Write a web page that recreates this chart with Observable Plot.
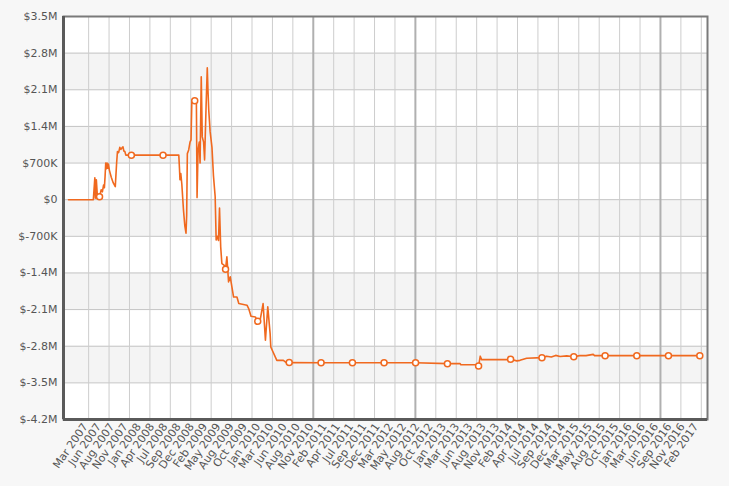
<!DOCTYPE html>
<html>
<head>
<meta charset="utf-8">
<script src="https://cdn.jsdelivr.net/npm/d3@7"></script>
<script src="https://cdn.jsdelivr.net/npm/@observablehq/plot@0.6"></script>
<style>
  html, body { margin: 0; padding: 0; background: #f7f7f7; }
  #chart { width: 729px; height: 486px; }
</style>
</head>
<body>
<div id="chart"></div>
<script>
// ---- data (values in thousands of dollars) ----
const dates = [
  "2006-11-20","2007-04-17","2007-04-26","2007-04-29","2007-05-05","2007-05-12","2007-05-24",
  "2007-06-03","2007-06-10","2007-06-17","2007-06-22","2007-06-26","2007-06-30","2007-07-04",
  "2007-07-08","2007-07-12","2007-07-16","2007-07-22","2007-08-02","2007-08-14","2007-08-26",
  "2007-09-03","2007-09-08","2007-09-15","2007-09-22","2007-09-28","2007-10-05","2007-10-11",
  "2007-10-16","2007-10-22","2007-10-28","2007-11-30","2008-06-06","2008-09-08","2008-09-12",
  "2008-09-15","2008-09-20","2008-09-26","2008-10-06","2008-10-14","2008-10-21","2008-10-25",
  "2008-10-29","2008-11-06","2008-11-14","2008-11-20","2008-11-25","2008-12-12","2008-12-22",
  "2008-12-26","2009-01-01","2009-01-08","2009-01-13","2009-01-20","2009-01-26","2009-02-03",
  "2009-02-09","2009-02-18","2009-02-25","2009-03-01","2009-03-06","2009-03-14","2009-03-25",
  "2009-04-03","2009-04-13","2009-04-19","2009-04-26","2009-05-03","2009-05-09","2009-05-16",
  "2009-05-23","2009-06-05","2009-06-14","2009-06-22","2009-07-02","2009-07-12","2009-08-01",
  "2009-08-21","2009-09-01","2009-10-20","2009-10-30","2009-11-13","2009-12-09","2009-12-23",
  "2010-01-08","2010-01-24","2010-02-07","2010-02-21","2010-03-07","2010-03-11","2010-04-16",
  "2010-05-25","2010-06-15","2010-06-29","2011-01-05","2011-07-11","2012-01-16","2012-07-22",
  "2013-01-28","2013-04-14","2013-04-18","2013-07-27","2013-08-02","2013-08-12","2013-08-20",
  "2014-01-20","2014-02-09","2014-03-18","2014-04-06","2014-05-16","2014-08-15","2014-09-12",
  "2014-10-10","2014-11-05","2014-12-01","2015-01-10","2015-02-21","2015-03-29","2015-05-05",
  "2015-06-17","2015-06-25","2015-08-27","2016-03-03","2016-09-08","2017-03-14"
];
const values = [
  0,0,420,30,380,20,58,
  190,150,280,230,440,700,590,
  700,600,680,560,430,320,250,
  700,920,900,1000,960,990,1010,
  930,920,851,851,851,851,600,
  380,500,300,-200,-500,-640,-300,
  880,950,1100,1144,1900,1891,1880,
  40,950,1100,700,2350,1200,1100,
  760,1800,2520,2100,1700,1300,1000,
  450,60,-770,-700,-780,-160,-900,
  -1220,-1250,-1327,-1090,-1570,-1474,-1860,
  -1860,-1984,-2016,-2080,-2227,-2240,-2323,
  -2271,-1984,-2687,-2049,-2558,-2815,-3070,
  -3070,-3121,-3110,-3115,-3115,-3115,-3115,
  -3133,-3133,-3153,-3153,-3180,-2990,-3056,
  -3056,-3050,-3080,-3070,-3030,-3018,-2990,
  -3005,-2975,-2995,-2985,-3000,-2980,-2980,
  -2955,-2980,-2980,-2980,-2980,-2980
];
const markerDates = [
  "2007-05-24","2007-11-30","2008-06-06","2008-12-12","2009-06-14","2009-12-23","2010-06-29",
  "2011-01-05","2011-07-11","2012-01-16","2012-07-22","2013-01-28","2013-08-02","2014-02-09",
  "2014-08-15","2015-02-21","2015-08-27","2016-03-03","2016-09-08","2017-03-14"
];
const yTicks = [3500, 2800, 2100, 1400, 700, 0, -700, -1400, -2100, -2800, -3500, -4200];
const yLabels = ["$3.5M","$2.8M","$2.1M","$1.4M","$700K","$0","$-700K","$-1.4M","$-2.1M","$-2.8M","$-3.5M","$-4.2M"];
const xLabels = [
  "Mar 2007","Jun 2007","Aug 2007","Nov 2007","Jan 2008","Apr 2008","Jul 2008","Sep 2008","Dec 2008",
  "Feb 2009","May 2009","Aug 2009","Oct 2009","Jan 2010","Mar 2010","Jun 2010","Aug 2010","Nov 2010",
  "Feb 2011","Apr 2011","Jul 2011","Sep 2011","Dec 2011","Mar 2012","May 2012","Aug 2012","Oct 2012",
  "Jan 2013","Mar 2013","Jun 2013","Aug 2013","Nov 2013","Feb 2014","Apr 2014","Jul 2014","Sep 2014",
  "Dec 2014","Mar 2015","May 2015","Aug 2015","Oct 2015","Jan 2016","Mar 2016","Jun 2016","Sep 2016",
  "Nov 2016","Feb 2017"
];
const xStart = "2006-10-21", xEnd = "2017-04-29";
const firstTick = "2007-03-01", lastTick = "2017-02-18";
const firstGrid = "2007-03-20", lastGrid = "2017-03-23", gridCount = 31;
const darkGrid = [11, 16, 28];

// ---- build ----
const parse = s => new Date(s + "T00:00:00Z");
const series = dates.map((d, i) => ({date: parse(d), value: values[i]}));
const markerSet = new Set(markerDates);
const markers = series.filter((d, i) => markerSet.has(dates[i]));
const xDomain = [parse(xStart), parse(xEnd)];

const t0 = +parse(firstTick), t1 = +parse(lastTick);
const tickDates = xLabels.map((_, i) => new Date(Math.round(t0 + i * (t1 - t0) / (xLabels.length - 1))));
const tickLabel = new Map(tickDates.map((d, i) => [+d, xLabels[i]]));
const g0 = +parse(firstGrid), g1 = +parse(lastGrid);
const gridDates = d3.range(gridCount).map(i => new Date(Math.round(g0 + i * (g1 - g0) / (gridCount - 1))));
const gridLight = gridDates.filter((d, i) => !darkGrid.includes(i));
const gridDark = gridDates.filter((d, i) => darkGrid.includes(i));
const yLabel = new Map(yTicks.map((v, i) => [v, yLabels[i]]));
const bands = [];
for (let i = 1; i + 1 < yTicks.length; i += 2) bands.push({y1: yTicks[i + 1], y2: yTicks[i]});
const yMin = d3.min(yTicks), yMax = d3.max(yTicks);

const color = "#f0691f";

const chart = Plot.plot({
  width: 729,
  height: 486,
  marginLeft: 63,
  marginRight: 22,
  marginTop: 16,
  marginBottom: 67,
  style: {background: "#f7f7f7", fontFamily: "'DejaVu Sans', Verdana, sans-serif", fontSize: "11px", color: "#555"},
  x: {type: "utc", domain: xDomain},
  y: {domain: [yMin, yMax]},
  marks: [
    Plot.frame({fill: "white", stroke: null}),
    Plot.rect(bands, {x1: xDomain[0], x2: xDomain[1], y1: "y1", y2: "y2", fill: "#f4f4f4"}),
    Plot.gridY(yTicks, {stroke: "#c4c4c4", strokeOpacity: 1}),
    Plot.ruleX(gridLight, {stroke: "#cdcdcd", strokeWidth: 1}),
    Plot.ruleX(gridDark, {stroke: "#b0b0b0", strokeWidth: 2}),
    Plot.line(series, {x: "date", y: "value", stroke: color, strokeWidth: 1.6, strokeLinejoin: "round"}),
    Plot.dot(markers, {x: "date", y: "value", r: 3, fill: "white", stroke: color, strokeWidth: 1.5}),
    Plot.frame({stroke: "#7a7a7a", strokeWidth: 2}),
    Plot.ruleX([xDomain[0]], {stroke: "#5a5a5a", strokeWidth: 3}),
    Plot.ruleY([yMin], {stroke: "#5a5a5a", strokeWidth: 3}),
    Plot.axisY(yTicks, {tickSize: 0, tickPadding: 6, tickFormat: d => yLabel.get(d), fill: "#555", fontSize: 11}),
    Plot.axisX(tickDates, {tickSize: 0, tickPadding: 5, tickRotate: -55, tickFormat: d => tickLabel.get(+d), fill: "#555", fontSize: 11})
  ]
});
document.getElementById("chart").appendChild(chart);
</script>
</body>
</html>
